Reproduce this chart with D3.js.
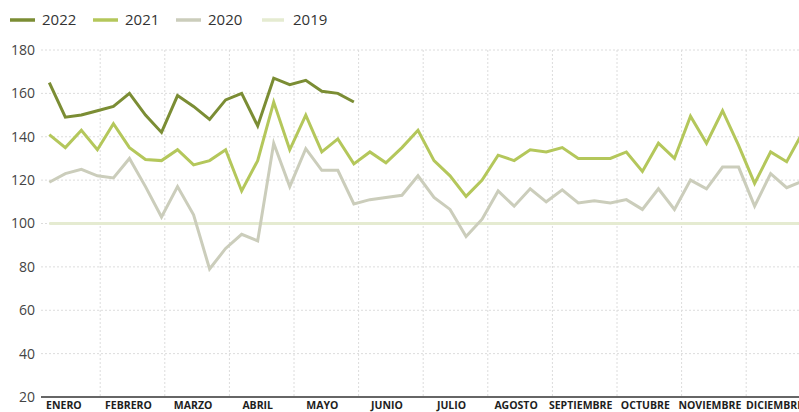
<!DOCTYPE html>
<html>
<head>
<meta charset="utf-8">
<script src="https://cdn.jsdelivr.net/npm/d3@7"></script>
<style>
  body { margin: 0; background: #fff; overflow: hidden; }
  svg { display: block; font-family: "Open Sans", sans-serif; }
</style>
</head>
<body>
<div id="chart"></div>
<script>
// 4 readings per month, 48 per year
const months = ['ENERO', 'FEBRERO', 'MARZO', 'ABRIL', 'MAYO', 'JUNIO', 'JULIO',
  'AGOSTO', 'SEPTIEMBRE', 'OCTUBRE', 'NOVIEMBRE', 'DICIEMBRE'];
const yTicks = [20, 40, 60, 80, 100, 120, 140, 160, 180];

const values2022 = [165, 149, 150, 152, 154, 160, 150, 142, 159, 154, 148, 157,
  160, 145, 167, 164, 166, 161, 160, 156];
const values2021 = [141, 135, 143, 134, 146, 135, 129.5, 129, 134, 127, 129, 134,
  115, 129, 156, 134, 150, 133, 139, 127.5, 133, 128, 135, 143,
  129, 122, 112.5, 120, 131.5, 129, 134, 133, 135, 130, 130, 130,
  133, 124, 137, 130, 149.5, 137, 152, 136, 118.5, 133, 128.5, 142];
const values2020 = [119, 123, 125, 122, 121, 130, 117, 103, 117, 104, 79, 88.5,
  95, 92, 137, 117, 134.5, 124.5, 124.5, 109, 111, 112, 113, 122,
  112, 106.5, 94, 102, 115, 108, 116, 110, 115.5, 109.5, 110.5, 109.5,
  111, 106.5, 116, 106.5, 120, 116, 126, 126, 108, 123, 116.5, 119.5];
const values2019 = d3.range(48).map(() => 100);

const series = [
  { name: '2022', values: values2022, color: '#7b8d34' },
  { name: '2021', values: values2021, color: '#b4c75b' },
  { name: '2020', values: values2020, color: '#cbcdbb' },
  { name: '2019', values: values2019, color: '#e5ebd1' }
];

const width = 799;
const height = 412;
const left = 41;

const svg = d3.select('#chart')
  .append('svg')
  .attr('width', width)
  .attr('height', height);

const x = d3.scaleLinear().domain([0, 47]).range([49.3, 802.7]);
const xMonth = d3.scaleLinear().domain([0, 12]).range([35.6, 810.8]);
const y = d3.scaleLinear().domain([20, 180]).range([397, 50]);

// horizontal grid
svg.append('g')
  .selectAll('line')
  .data(yTicks.filter(d => d !== 20))
  .enter().append('line')
  .attr('x1', left)
  .attr('x2', width)
  .attr('y1', d => y(d))
  .attr('y2', d => y(d))
  .attr('stroke', '#dcdcdc')
  .attr('stroke-dasharray', '2,2');

// vertical grid at month boundaries
svg.append('g')
  .selectAll('line')
  .data(d3.range(1, 12))
  .enter().append('line')
  .attr('x1', d => xMonth(d))
  .attr('x2', d => xMonth(d))
  .attr('y1', y(180))
  .attr('y2', y(20))
  .attr('stroke', '#dcdcdc')
  .attr('stroke-dasharray', '2,2');

// y labels
svg.append('g')
  .selectAll('text')
  .data(yTicks)
  .enter().append('text')
  .attr('x', 35)
  .attr('y', d => y(d))
  .attr('dy', '0.35em')
  .attr('text-anchor', 'end')
  .attr('font-size', 14)
  .attr('fill', '#444')
  .text(d => d);

// month labels
svg.append('g')
  .selectAll('text')
  .data(months)
  .enter().append('text')
  .attr('x', (d, i) => xMonth(i + 0.5) - 4)
  .attr('y', 409)
  .attr('text-anchor', 'middle')
  .attr('font-size', 10.5)
  .attr('font-weight', 'bold')
  .attr('fill', '#1e1e1e')
  .text(d => d);

const line = d3.line()
  .x((d, i) => x(i))
  .y(d => y(d));

svg.append('g')
  .selectAll('path')
  .data(series.slice().reverse())
  .enter().append('path')
  .attr('d', d => line(d.values))
  .attr('fill', 'none')
  .attr('stroke', d => d.color)
  .attr('stroke-width', 3)
  .attr('stroke-linejoin', 'miter');

// baseline axis
svg.append('line')
  .attr('x1', left)
  .attr('x2', width)
  .attr('y1', y(20))
  .attr('y2', y(20))
  .attr('stroke', '#333')
  .attr('stroke-width', 1.5);

// legend
const legendX = [10, 93, 176, 262];
const legend = svg.append('g')
  .selectAll('g')
  .data(series)
  .enter().append('g')
  .attr('transform', (d, i) => `translate(${legendX[i]},20)`);

legend.append('line')
  .attr('x1', 0)
  .attr('x2', (d, i) => i === 3 ? 22 : 25)
  .attr('stroke', d => d.color)
  .attr('stroke-width', 3.5);

legend.append('text')
  .attr('x', (d, i) => i === 3 ? 31 : 32)
  .attr('dy', '0.35em')
  .attr('font-size', 15)
  .attr('fill', '#333')
  .text(d => d.name);
</script>
</body>
</html>
